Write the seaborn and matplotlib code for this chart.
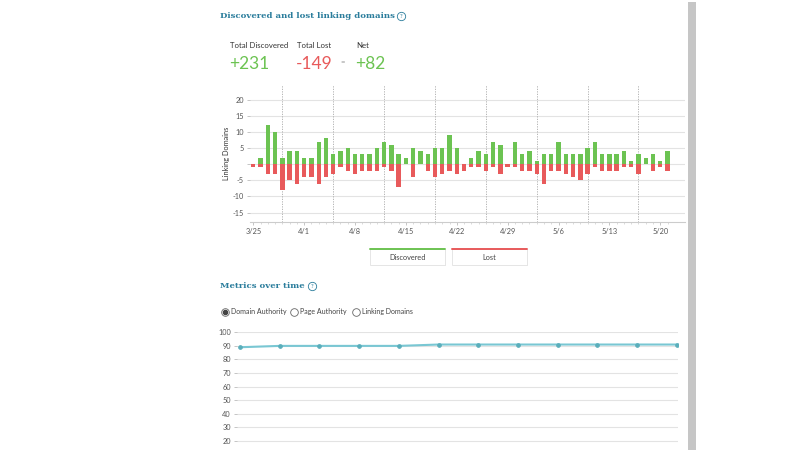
import numpy as np
import pandas as pd
import matplotlib
matplotlib.use("Agg")
import matplotlib.pyplot as plt
from matplotlib.lines import Line2D
from matplotlib.patches import Rectangle
import seaborn as sns

# ---------------- data ----------------
days = list(range(58))
discovered = [0, 2, 12, 10, 2, 4, 4, 2, 2, 7, 8, 3, 4, 5, 3, 3, 3, 5, 7, 6, 3, 2, 5, 4, 3, 5, 5, 9, 5,
              0, 2, 4, 3, 7, 6, 0, 7, 3, 4, 1, 3, 3, 7, 3, 3, 3, 5, 7, 3, 3, 3, 4, 1, 3, 2, 3, 1, 4]
lost = [-1, -1, -3, -3, -8, -5, -6, -4, -4, -6, -4, -3, -1, -2, -3, -2, -2, -2, -1, -2, -7, 0, -4, 0, -2, -4, -3, -2, -3,
        -2, -1, -1, -2, -1, -3, -1, -1, -2, -2, -3, -6, -2, -2, -3, -4, -5, -3, -1, -2, -2, -2, -1, -1, -3, 0, -2, -1, -2]
tick_days = [0, 7, 14, 21, 28, 35, 42, 49, 56]
tick_labels = ["3/25", "4/1", "4/8", "4/15", "4/22", "4/29", "5/6", "5/13", "5/20"]
week_lines = [4, 11, 18, 25, 32, 39, 46, 53]
y_ticks = [20, 15, 10, 5, 0, -5, -10, -15]
y_tick_labels = ["20", "15", "10", "5", "", "-5", "-10", "-15"]

total_discovered = "+231"
total_lost = "-149"
net = "+82"

metric_points = list(range(12))
domain_authority = [89, 90, 90, 90, 90, 91, 91, 91, 91, 91, 91, 91]
metric_ticks = [20, 30, 40, 50, 60, 70, 80, 90, 100]

GREEN = "#6cc352"
RED = "#e85a5b"
TEAL_TITLE = "#2b7d9c"
GRID = "#e3e3e3"
TXT = "#555555"

sns.set_theme(style="white")
plt.rcParams['font.family'] = ['Lato', 'DejaVu Sans']

TITLE_FAMILY, TITLE_SIZE = ["DejaVu Serif"], 6.1

W, H = 800, 450
fig = plt.figure(figsize=(8, 4.5), dpi=100)
fig.patch.set_facecolor("white")

def fx(x):
    return x / W

def fy(y):
    return 1 - y / H

# ---------------- header ----------------
def help_icon(x, y):
    fig.add_artist(Line2D([fx(x)], [fy(y)], marker='o', markersize=6, markerfacecolor='white',
                          markeredgecolor=TEAL_TITLE, markeredgewidth=0.6, transform=fig.transFigure))
    fig.text(fx(x), fy(y), "?", fontsize=4.2, color=TEAL_TITLE, ha='center', va='center')

fig.text(fx(220), fy(16), "Discovered and lost linking domains", fontsize=TITLE_SIZE, fontweight='bold',
         family=TITLE_FAMILY, color=TEAL_TITLE, ha='left', va='center')
help_icon(401, 16)

fig.text(fx(230), fy(46), "Total Discovered", fontsize=5.6, color="#333333", ha='left', va='center')
fig.text(fx(229), fy(64), total_discovered, fontsize=12.5, color=GREEN, ha='left', va='center')
fig.text(fx(297), fy(46), "Total Lost", fontsize=5.6, color="#333333", ha='left', va='center')
fig.text(fx(296), fy(64), total_lost, fontsize=12.5, color=RED, ha='left', va='center')
fig.text(fx(343), fy(62), "=", fontsize=5.5, color="#999999", ha='center', va='center')
fig.text(fx(356), fy(46), "Net", fontsize=5.6, color="#333333", ha='left', va='center')
fig.text(fx(355), fy(64), net, fontsize=12.5, color=GREEN, ha='left', va='center')

# ---------------- bar chart ----------------
ax = fig.add_axes([fx(250), fy(222), fx(685) - fx(250), fy(85) - fy(222)])
df = pd.DataFrame({
    "day": days * 2,
    "value": discovered + lost,
    "kind": ["Discovered"] * len(days) + ["Lost"] * len(days),
})
sns.barplot(data=df, x="day", y="value", hue="kind", dodge=False, native_scale=True,
            palette={"Discovered": GREEN, "Lost": RED}, width=0.6, legend=False,
            saturation=1, ax=ax, linewidth=0)
ax.set_xlim(-0.45, 59.4)
ax.set_ylim(-17.9, 24.5)
ax.set_yticks(y_ticks)
ax.set_yticklabels(y_tick_labels)
ax.set_xticks(tick_days)
ax.set_xticklabels(tick_labels)
ax.set_xticks(days, minor=True)
for v in y_ticks:
    ax.axhline(v, color=GRID, lw=0.8, zorder=0)
for d in week_lines:
    ax.axvline(d, color="#aaaaaa", lw=0.6, ls=(0, (1.5, 1.5)), zorder=0.5)
for s in ["top", "right", "left"]:
    ax.spines[s].set_visible(False)
ax.spines["bottom"].set_color("#cccccc")
ax.spines["bottom"].set_linewidth(0.8)
ax.tick_params(axis='y', which='both', length=2.5, width=0.6, color="#bbbbbb", labelsize=5.3,
               labelcolor=TXT, pad=2, left=True)
ax.tick_params(axis='x', which='major', length=2.5, width=0.6, color="#bbbbbb", labelsize=5.3,
               labelcolor=TXT, pad=1.5, bottom=True)
ax.tick_params(axis='x', which='minor', length=1.5, width=0.5, color="#cccccc", bottom=True)
ax.set_xlabel("")
ax.set_ylabel("Linking Domains", fontsize=5.3, color="#333333", labelpad=1.5)
ax.set_facecolor("white")

# ---------------- legend boxes ----------------
def legend_box(x0, x1, y0, y1, color, label):
    fig.add_artist(Rectangle((fx(x0) + 0.001, fy(y1) - 0.003), fx(x1) - fx(x0), fy(y0) - fy(y1),
                             transform=fig.transFigure, facecolor="#eeeeee", edgecolor="none", zorder=1))
    fig.add_artist(Rectangle((fx(x0), fy(y1)), fx(x1) - fx(x0), fy(y0) - fy(y1),
                             transform=fig.transFigure, facecolor="white", edgecolor="#e2e2e2",
                             linewidth=0.6, zorder=2))
    fig.add_artist(Line2D([fx(x0), fx(x1)], [fy(y0), fy(y0)], color=color, lw=1.4,
                          transform=fig.transFigure, zorder=3))
    fig.text((fx(x0) + fx(x1)) / 2, fy((y0 + y1) / 2 + 0.5), label, fontsize=5.3, color="#444444",
             ha='center', va='center', zorder=4)

legend_box(370, 445, 249, 265, GREEN, "Discovered")
legend_box(452, 527, 249, 265, RED, "Lost")

# ---------------- metrics header ----------------
fig.text(fx(220), fy(286), "Metrics over time", fontsize=TITLE_SIZE, fontweight='bold',
         family=TITLE_FAMILY, color=TEAL_TITLE, ha='left', va='center')
help_icon(312, 286)

def radio(x, y, label, selected=False):
    fig.add_artist(Line2D([fx(x)], [fy(y)], marker='o', markersize=5.5, markerfacecolor='white',
                          markeredgecolor="#666666", markeredgewidth=0.6, transform=fig.transFigure))
    if selected:
        fig.add_artist(Line2D([fx(x)], [fy(y)], marker='o', markersize=3.0, markerfacecolor='#444444',
                              markeredgecolor="#444444", transform=fig.transFigure))
    fig.text(fx(x + 5.5), fy(y), label, fontsize=5.0, color="#444444", ha='left', va='center')

radio(225, 311.5, "Domain Authority", True)
radio(294, 311.5, "Page Authority")
radio(356, 311.5, "Linking Domains")

# ---------------- metrics line chart ----------------
top_px, zero_px = 332.3, 467.8
ax2 = fig.add_axes([fx(237), fy(zero_px), fx(678) - fx(237), fy(top_px - 0.5) - fy(zero_px)])
sns.lineplot(x=metric_points, y=domain_authority, ax=ax2, color="#79c7d3", lw=1.5,
             marker='o', markersize=2.6, markerfacecolor="#5aaebb", markeredgecolor="#5aaebb")
ax2.set_xlim(-0.075, 11.03)
ax2.set_ylim(0, 100.4)
ax2.set_yticks(metric_ticks)
ax2.set_xticks([])
for v in metric_ticks:
    ax2.axhline(v, color=GRID, lw=0.8, zorder=0)
for s in ["top", "right", "left", "bottom"]:
    ax2.spines[s].set_visible(False)
ax2.tick_params(axis='y', length=2.5, width=0.6, color="#bbbbbb", labelsize=5.3, labelcolor=TXT,
                pad=2, left=True)
ax2.set_facecolor("white")

# ---------------- scrollbar ----------------
fig.add_artist(Rectangle((fx(688), 0), fx(696) - fx(688), fy(2), transform=fig.transFigure,
                         facecolor="#c6c6c6", edgecolor="none"))

fig.savefig("out.png", dpi=100)
